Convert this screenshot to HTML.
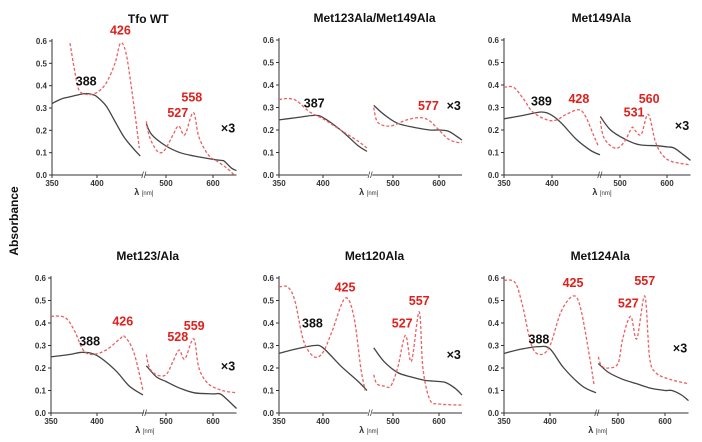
<!DOCTYPE html>
<html><head><meta charset="utf-8"><style>
html,body{margin:0;padding:0;background:#fff;}
svg{display:block;font-family:"Liberation Sans",Arial,sans-serif;}
</style></head><body>
<svg id="c" width="702" height="442" viewBox="0 0 702 442">
<text x="18" y="221" transform="rotate(-90 18 221)" text-anchor="middle" font-size="12" font-weight="bold" fill="#111">Absorbance</text>
</svg>
<script>
const titles = ["Tfo WT","Met123Ala/Met149Ala","Met149Ala","Met123/Ala","Met120Ala","Met124Ala"];
const yTicks = [0.0,0.1,0.2,0.3,0.4,0.5,0.6];
const xTicksLeft = [350,400];
const xTicksRight = [500,600];
const blackLeft = [
 [[350,.32],[360,.34],[370,.35],[380,.36],[388,.365],[395,.36],[400,.35],[410,.31],[420,.24],[430,.17],[440,.12],[448,.085]],
 [[350,.245],[370,.255],[390,.265],[400,.255],[420,.2],[440,.13],[450,.105]],
 [[350,.25],[370,.265],[389,.28],[400,.265],[410,.23],[425,.16],[440,.11],[450,.09]],
 [[350,.25],[370,.26],[385,.27],[400,.255],[420,.19],[435,.12],[450,.08]],
 [[350,.265],[370,.285],[390,.3],[400,.29],[420,.21],[440,.14],[450,.1]],
 [[350,.265],[370,.285],[388,.295],[400,.285],[415,.2],[435,.12],[450,.09]]
];
const redLeft = [
 [[370,.59],[375,.47],[380,.38],[390,.36],[400,.37],[410,.41],[420,.5],[426,.59],[432,.55],[438,.4],[443,.25],[447,.12]],
 [[350,.335],[360,.34],[370,.33],[385,.28],[400,.25],[420,.2],[440,.15],[450,.12]],
 [[350,.39],[360,.39],[370,.34],[380,.28],[395,.245],[405,.245],[415,.27],[428,.29],[435,.26],[443,.18],[448,.13]],
 [[350,.43],[365,.425],[375,.37],[385,.28],[395,.26],[410,.28],[425,.33],[430,.34],[440,.27],[450,.1]],
 [[350,.56],[360,.56],[368,.5],[378,.32],[390,.25],[400,.27],[410,.36],[425,.51],[435,.43],[443,.2],[448,.1]],
 [[350,.59],[362,.58],[370,.48],[380,.3],[390,.26],[400,.3],[412,.45],[425,.52],[433,.47],[443,.25],[448,.12]]
];
const blackRight = [
 [[458,.23],[470,.18],[500,.13],[530,.1],[560,.085],[600,.07],[620,.065],[625,.06],[640,.03],[650,.02]],
 [[458,.31],[480,.27],[510,.23],[550,.21],[580,.2],[600,.2],[620,.195],[640,.17],[650,.155]],
 [[458,.26],[480,.2],[510,.16],[540,.135],[580,.13],[600,.125],[615,.12],[635,.09],[650,.065]],
 [[458,.21],[480,.16],[500,.14],[530,.11],[560,.09],[600,.085],[615,.085],[630,.06],[650,.02]],
 [[458,.29],[480,.23],[510,.18],[540,.16],[570,.145],[600,.14],[615,.135],[635,.11],[650,.08]],
 [[458,.22],[480,.18],[510,.15],[540,.13],[570,.11],[600,.1],[615,.1],[635,.08],[650,.055]]
];
const redRight = [
 [[458,.24],[465,.17],[480,.11],[490,.1],[500,.12],[515,.18],[527,.22],[540,.18],[558,.28],[570,.17],[590,.09],[610,.06],[630,.03],[645,.0]],
 [[458,.3],[465,.24],[480,.22],[500,.22],[530,.245],[560,.255],[580,.24],[600,.2],[620,.16],[640,.145],[650,.145]],
 [[458,.24],[465,.17],[480,.13],[495,.12],[510,.15],[525,.21],[531,.2],[545,.18],[560,.27],[575,.15],[590,.09],[610,.06],[650,.045]],
 [[458,.26],[465,.2],[480,.17],[500,.17],[515,.23],[528,.28],[540,.24],[559,.33],[570,.2],[590,.13],[620,.1],[650,.09]],
 [[458,.17],[465,.13],[480,.12],[495,.12],[510,.2],[527,.345],[540,.23],[557,.45],[565,.2],[580,.06],[600,.04],[650,.035]],
 [[458,.25],[465,.21],[480,.2],[500,.22],[510,.33],[527,.43],[540,.33],[557,.52],[567,.25],[580,.18],[610,.15],[650,.13]]
];
const notes = [
 [["388",388,.40,"#111"],["426",426,.63,"#e0201c"],["527",525,.26,"#e0201c"],["558",555,.33,"#e0201c"],["×3",632,.19,"#111"]],
 [["387",390,.30,"#111"],["577",577,.29,"#e0201c"],["×3",632,.29,"#111"]],
 [["389",389,.31,"#111"],["428",428,.32,"#e0201c"],["531",530,.26,"#e0201c"],["560",562,.32,"#e0201c"],["×3",632,.20,"#111"]],
 [["388",392,.30,"#111"],["426",428,.39,"#e0201c"],["528",525,.32,"#e0201c"],["559",560,.37,"#e0201c"],["×3",632,.19,"#111"]],
 [["388",388,.38,"#111"],["425",425,.54,"#e0201c"],["527",520,.38,"#e0201c"],["557",557,.48,"#e0201c"],["×3",632,.24,"#111"]],
 [["388",388,.31,"#111"],["425",425,.56,"#e0201c"],["527",522,.47,"#e0201c"],["557",557,.57,"#e0201c"],["×3",632,.27,"#111"]]
];
const geom = [
 [52,97,166,213,175,41],[279,323,393,439,175,40],[504,552,620,667,175,40],
 [51,97,166,213,413,278],[279,323,393,439,413,278],[504,550,618,665,413,278]
];
const NS="http://www.w3.org/2000/svg";
const svg=document.getElementById('c');
function mk(tag,attrs,parent){const e=document.createElementNS(NS,tag);for(const k in attrs)e.setAttribute(k,attrs[k]);(parent||svg).appendChild(e);return e;}
function smooth(pts){let d="M"+pts[0][0].toFixed(1)+","+pts[0][1].toFixed(1);
 for(let i=0;i<pts.length-1;i++){const p0=pts[Math.max(0,i-1)],p1=pts[i],p2=pts[i+1],p3=pts[Math.min(pts.length-1,i+2)];
  const c1=[p1[0]+(p2[0]-p0[0])/6,p1[1]+(p2[1]-p0[1])/6],c2=[p2[0]-(p3[0]-p1[0])/6,p2[1]-(p3[1]-p1[1])/6];
  d+="C"+c1[0].toFixed(1)+","+c1[1].toFixed(1)+" "+c2[0].toFixed(1)+","+c2[1].toFixed(1)+" "+p2[0].toFixed(1)+","+p2[1].toFixed(1);}
 return d;}
geom.forEach((g,i)=>{
 const [x350,x400,x500,x600,y0,y6]=g;
 const kl=(x400-x350)/50, kr=(x600-x500)/100;
 const xs=l=> l<=452 ? x350+(l-350)*kl : x500+(l-500)*kr;
 const ys=a=> y0+(y6-y0)*a/0.6;
 const grp=mk('g',{});
 
 
 const xEnd=xs(650), xBL=xs(451), xBR=xs(455);
 const t=mk('text',{x:(x350+xEnd)/2+4,y:y6-18,'text-anchor':'middle','font-size':12,'font-weight':'bold',fill:'#111'},grp);
 t.textContent=titles[i];
 
 
 const ax=mk('path',{d:`M${x350},${y6-2}V${y0}H${xBL}M${xBR},${y0}H${xEnd}`,stroke:'#333','stroke-width':1,fill:'none'},grp);
 
 
 const br=mk('text',{x:(xBL+xBR)/2,y:y0+3,'text-anchor':'middle','font-size':9,fill:'#333'},grp);br.textContent='//';
 
 
 yTicks.forEach(v=>{const y=ys(v);mk('line',{x1:x350-3,x2:x350,y1:y,y2:y,stroke:'#333'},grp);
  const tt=mk('text',{x:x350-5,y:y+3,'text-anchor':'end','font-size':8,'font-weight':'bold',fill:'#333'},grp);tt.textContent=v.toFixed(1);
  
  });
 xTicksLeft.concat(xTicksRight).forEach(v=>{const x=xs(v);mk('line',{x1:x,x2:x,y1:y0,y2:y0+3,stroke:'#333'},grp);
  const tt=mk('text',{x:x,y:y0+11,'text-anchor':'middle','font-size':8,'font-weight':'bold',fill:'#333'},grp);tt.textContent=v;
  
  });
 const xl=mk('text',{x:xs(452),y:y0+20,'text-anchor':'middle','font-size':9,'font-weight':'bold',fill:'#333'},grp);
 xl.innerHTML='λ <tspan font-size="6" font-weight="normal">[nm]</tspan>';
 
 
 [[blackLeft[i],'#444',null],[blackRight[i],'#444',null],[redLeft[i],'#ea6064','3,2'],[redRight[i],'#ea6064','3,2']].forEach((s,j)=>{
  const p=mk('path',{d:smooth(s[0].map(q=>[xs(q[0]),ys(q[1])])),stroke:s[1],'stroke-width':1.3,fill:'none'},grp);
  if(s[2])p.setAttribute('stroke-dasharray',s[2]);
  
  
 });
 notes[i].forEach(n=>{const tt=mk('text',{x:xs(n[1]),y:ys(n[2]),'text-anchor':'middle','font-size':12.5,'font-weight':'bold',fill:n[3]},grp);tt.textContent=n[0];
  
  });
});
</script>
</body></html>
